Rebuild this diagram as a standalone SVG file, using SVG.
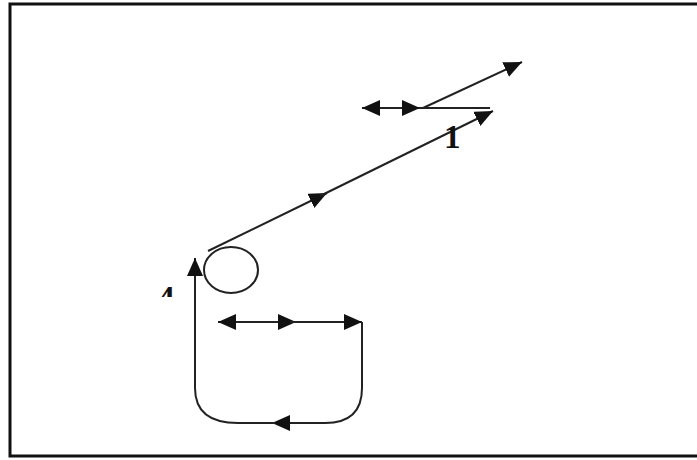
<svg xmlns="http://www.w3.org/2000/svg" width="697" height="460" viewBox="0 0 697 460">
<style>
.ln{fill:none;stroke:#222;stroke-width:2}
.ah{fill:#111}
.lbl{font-family:"Liberation Serif",serif;font-weight:bold;font-size:33px;fill:#111}
</style>
<defs>
<marker id="arr" markerUnits="userSpaceOnUse" markerWidth="20" markerHeight="18" refX="18" refY="8" orient="auto">
<path d="M0,0 L18,8 L0,16 Z" class="ah"/>
</marker>
<clipPath id="c4"><rect x="150" y="280" width="40" height="17"/></clipPath>
</defs>
<rect x="10" y="4" width="700" height="452" fill="#fff" stroke="#111" stroke-width="3"/>
<g id="connectors">
<line class="ln" x1="208" y1="251" x2="327" y2="193" marker-end="url(#arr)"/>
<line class="ln" x1="320" y1="196" x2="493" y2="111" marker-end="url(#arr)"/>
<line class="ln" x1="423" y1="108" x2="522" y2="62" marker-end="url(#arr)"/>
<line class="ln" x1="420" y1="108" x2="490" y2="108" stroke="#555"/>
<line class="ln" x1="400" y1="108" x2="362" y2="108" marker-end="url(#arr)"/>
<line class="ln" x1="380" y1="108" x2="420" y2="108" marker-end="url(#arr)"/>
<line class="ln" x1="260" y1="322" x2="218" y2="322" marker-end="url(#arr)"/>
<line class="ln" x1="237" y1="322" x2="296" y2="322" marker-end="url(#arr)"/>
<line class="ln" x1="290" y1="322" x2="362" y2="322" marker-end="url(#arr)"/>
<path class="ln" d="M362 322 L362 388 Q362 423 325 423 L290 423" />
<path class="ln" d="M300 423 L272 423" marker-end="url(#arr)"/>
<path class="ln" d="M275 423 L238 423 Q195 423 195 388 L195 258" marker-end="url(#arr)"/>
</g>
<g id="node-ball">
<ellipse cx="231" cy="270" rx="27" ry="23" fill="none" stroke="#222" stroke-width="2"/>
</g>
<g id="label-1"><text class="lbl" x="444" y="148">1</text></g>
<g id="label-4" clip-path="url(#c4)"><text class="lbl" x="158" y="309">4</text></g>
</svg>
